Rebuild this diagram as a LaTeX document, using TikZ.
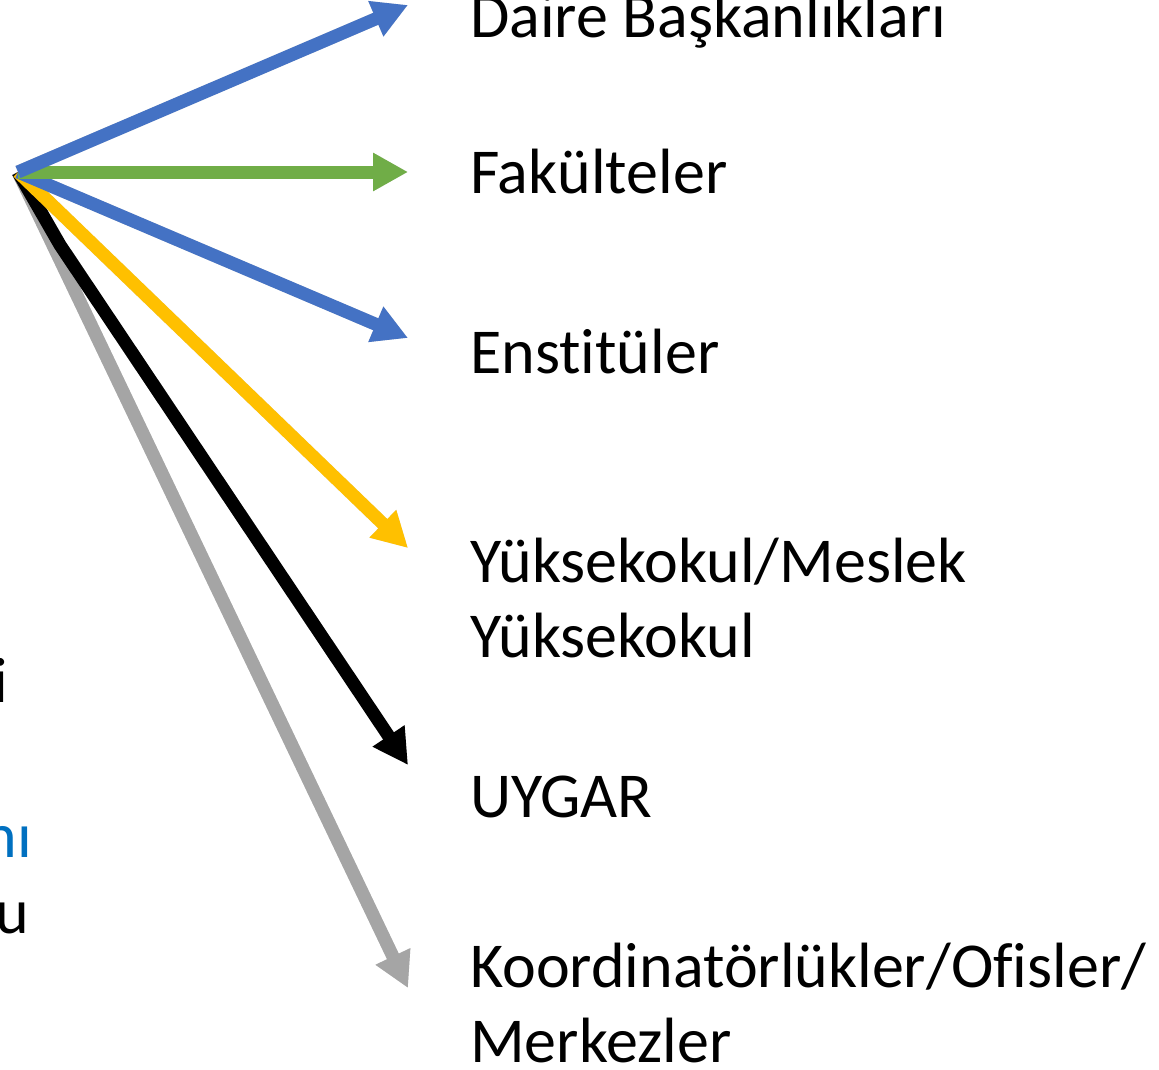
\documentclass[tikz,border=0pt]{standalone}
\usepackage{fontspec}
\setmainfont{Carlito}[RawFeature=-liga]
\usetikzlibrary{arrows.meta}
\definecolor{arrblue}{HTML}{4472C4}
\definecolor{arrgreen}{HTML}{70AD47}
\definecolor{arryellow}{HTML}{FFC000}
\definecolor{arrgray}{HTML}{A5A5A5}
\definecolor{txtblue}{HTML}{0070C0}

\begin{document}
\begin{tikzpicture}[x=1pt, y=-1pt,
    lbl/.style={anchor=base west, inner sep=0pt, align=left, font=\fontsize{64}{75}\selectfont},
    arr/.style={line width=13pt, -{Triangle[length=35pt, width=36pt]}},
    shade/.style={arr, draw=black, opacity=0.15, shift={(4,5)}}]
    \useasboundingbox (0,0) rectangle (1159,1070);
    \clip (0,0) rectangle (1159,1070);
    \coordinate (hub) at (18,172);
    \coordinate (tdaire) at (408,5);
    \coordinate (tfak) at (408,172);
    \coordinate (tens) at (408,338);
    \coordinate (tyuk) at (408,548);
    \coordinate (kuyg) at (60,245);
    \coordinate (tuyg) at (408,765);
    \coordinate (tkoor) at (408,988);
    % labels on the right (multi-line ones sit on their last line)
    \node[lbl] (daire) at (470,38) {Daire Başkanlıkları};
    \node[lbl] (fak) at (470,193) {Fakülteler};
    \node[lbl] (ens) at (470,373) {Enstitüler};
    \node[lbl] (yuk) at (470,657) {Yüksekokul/Meslek\\Yüksekokul};
    \node[lbl] (uyg) at (470,817) {UYGAR};
    \node[lbl] (koor) at (470,1062) {Koordinatörlükler/Ofisler/\\Merkezler};
    % cut-off words at the left edge
    \node[lbl, anchor=base east] (fraga) at (8,702) {i};
    \node[lbl, anchor=base east, text=txtblue] (fragb) at (32,857) {nı};
    \node[lbl, anchor=base east] (fragc) at (29,933) {u};
    % shadows
    \foreach \t in {tkoor,tyuk,tens,tfak,tdaire} {
        \draw [shade] (hub) -- (\t);
    }
    \draw [shade] (hub) -- (kuyg) -- (tuyg);
    % arrows
    \draw [arr, arrgray] (hub) -- (tkoor);
    \draw [arr, black] (hub) -- (kuyg) -- (tuyg);
    \draw [arr, arryellow] (hub) -- (tyuk);
    \draw [arr, arrblue] (hub) -- (tens);
    \draw [arr, arrgreen] (hub) -- (tfak);
    \draw [arr, arrblue] (hub) -- (tdaire);
\end{tikzpicture}
\end{document}
